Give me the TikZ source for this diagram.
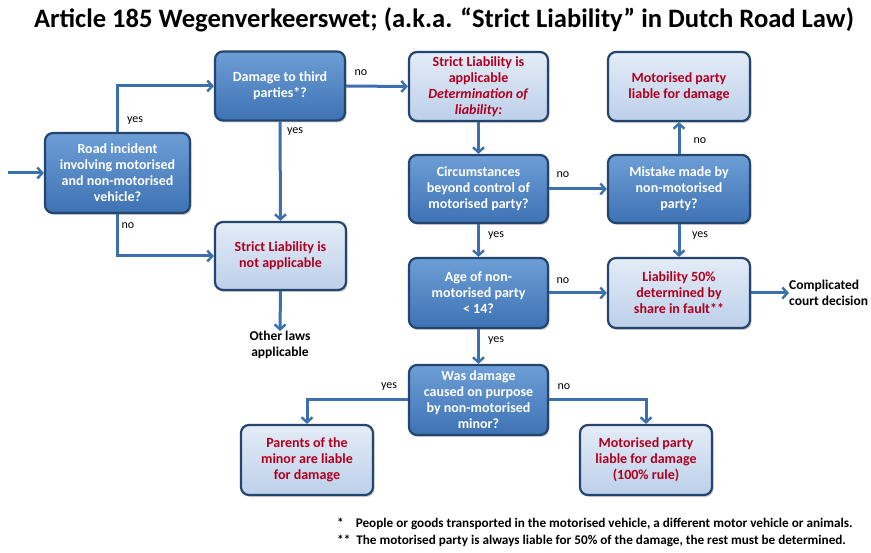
\documentclass[tikz,border=0pt]{standalone}
\usepackage{fontspec}
\setmainfont{Carlito}
\usetikzlibrary{arrows.meta,shadows}
\definecolor{boxdarkA}{HTML}{6D9ED6}
\definecolor{boxdarkB}{HTML}{3E72B4}
\definecolor{boxlightA}{HTML}{E4ECF7}
\definecolor{boxlightB}{HTML}{BCD0EA}
\definecolor{boxborder}{HTML}{24456E}
\definecolor{arrowblue}{HTML}{3B6FAE}
\definecolor{redtext}{HTML}{B0001E}
\tikzset{
  x=1pt,y=-1pt,
  basebox/.style={rectangle,rounded corners=8pt,draw=boxborder,line width=2.2pt,
    align=center,font=\fontsize{14}{16}\selectfont\bfseries,inner sep=1pt,
    drop shadow={opacity=0.35,shadow xshift=1.5pt,shadow yshift=-2pt}},
  darkbox/.style={basebox,top color=boxdarkA,bottom color=boxdarkB,text=white},
  lightbox/.style={basebox,top color=boxlightA,bottom color=boxlightB,text=redtext},
  flow/.style={draw=arrowblue,line width=3pt,-{Straight Barb[length=5pt,width=11pt,line width=2.4pt]}},
  lbl/.style={font=\fontsize{12}{14}\selectfont,text=black,inner sep=0pt},
  note/.style={font=\fontsize{13.5}{16}\selectfont\bfseries,align=center,text=black,inner sep=0pt},
  fnote/.style={font=\fontsize{13.2}{15}\selectfont\bfseries,anchor=west,inner sep=0pt}
}
\begin{document}
\begin{tikzpicture}
\useasboundingbox[fill=white] (0,0) rectangle (871,553);
\node[font=\fontsize{26.6}{31}\selectfont\bfseries,inner sep=0pt] (title) at (444,20)
  {Article 185 Wegenverkeerswet; (a.k.a. “Strict Liability” in Dutch Road Law)};

\node[darkbox,minimum width=145pt,minimum height=80pt] (road) at (117.5,173)
  {Road incident\\involving motorised\\and non-motorised\\vehicle?};
\node[darkbox,minimum width=130pt,minimum height=69pt] (dmg) at (280,86)
  {Damage to third\\parties*?};
\node[lightbox,minimum width=131pt,minimum height=68pt] (notapp) at (280.5,256)
  {Strict Liability is\\not applicable};
\node[lightbox,minimum width=139pt,minimum height=69pt] (app) at (478.5,86.5)
  {Strict Liability is\\applicable\\\textit{Determination of}\\\textit{liability:}};
\node[darkbox,minimum width=139pt,minimum height=68pt] (circ) at (478.5,189)
  {Circumstances\\beyond control of\\motorised party?};
\node[darkbox,minimum width=139pt,minimum height=70pt] (age) at (478.5,293)
  {Age of non-\\motorised party\\< 14?};
\node[darkbox,minimum width=139pt,minimum height=70pt] (was) at (478.5,400)
  {Was damage\\caused on purpose\\by non-motorised\\minor?};
\node[lightbox,minimum width=132pt,minimum height=70pt] (parents) at (307,460)
  {Parents of the\\minor are liable\\for damage};
\node[lightbox,minimum width=132pt,minimum height=70pt] (mot100) at (646,460)
  {Motorised party\\liable for damage\\(100\% rule)};
\node[lightbox,minimum width=142pt,minimum height=69pt] (motliable) at (679,86.5)
  {Motorised party\\liable for damage};
\node[darkbox,minimum width=142pt,minimum height=68pt] (mistake) at (679,189)
  {Mistake made by\\non-motorised\\party?};
\node[lightbox,minimum width=142pt,minimum height=70pt] (half) at (679,293)
  {Liability 50\%\\determined by\\share in fault**};

\node[note,align=left,anchor=west] (court) at (789,293) {Complicated\\court decision};
\node[note] (other) at (280,345) {Other laws\\applicable};
\coordinate (start) at (8,173);

\draw[flow] (start) -- (road.west);
\draw[flow] (road.north) |- (dmg.west);
\draw[flow] (road.south) |- (notapp.west);
\draw[flow] (dmg.south) -- (notapp.north);
\draw[flow] (dmg.east) -- (app.west);
\draw[flow] (notapp.south) -- (other.north);
\draw[flow] (app.south) -- (circ.north);
\draw[flow] (circ.east) -- (mistake.west);
\draw[flow] (circ.south) -- (age.north);
\draw[flow] (mistake.north) -- (motliable.south);
\draw[flow] (mistake.south) -- (half.north);
\draw[flow] (age.east) -- (half.west);
\draw[flow] (age.south) -- (was.north);
\draw[flow] (was.west) -| (parents.north);
\draw[flow] (was.east) -| (mot100.north);
\draw[flow] (half.east) -- (court.west);

\node[lbl] (l1) at (135,121) {yes};
\node[lbl] (l2) at (128,226) {no};
\node[lbl] (l3) at (295,132) {yes};
\node[lbl] (l4) at (361,73) {no};
\node[lbl] (l5) at (563,175) {no};
\node[lbl] (l6) at (496,236) {yes};
\node[lbl] (l7) at (700,141) {no};
\node[lbl] (l8) at (700,236) {yes};
\node[lbl] (l9) at (563,281) {no};
\node[lbl] (l10) at (496,341) {yes};
\node[lbl] (l11) at (389,387) {yes};
\node[lbl] (l12) at (564,387) {no};

\node[fnote] (fn1) at (337,524)
  {*\hspace{12pt}People or goods transported in the motorised vehicle, a different motor vehicle or animals.};
\node[fnote] (fn2) at (337,541)
  {**\hspace{6pt}The motorised party is always liable for 50\% of the damage, the rest must be determined.};
\end{tikzpicture}
\end{document}
